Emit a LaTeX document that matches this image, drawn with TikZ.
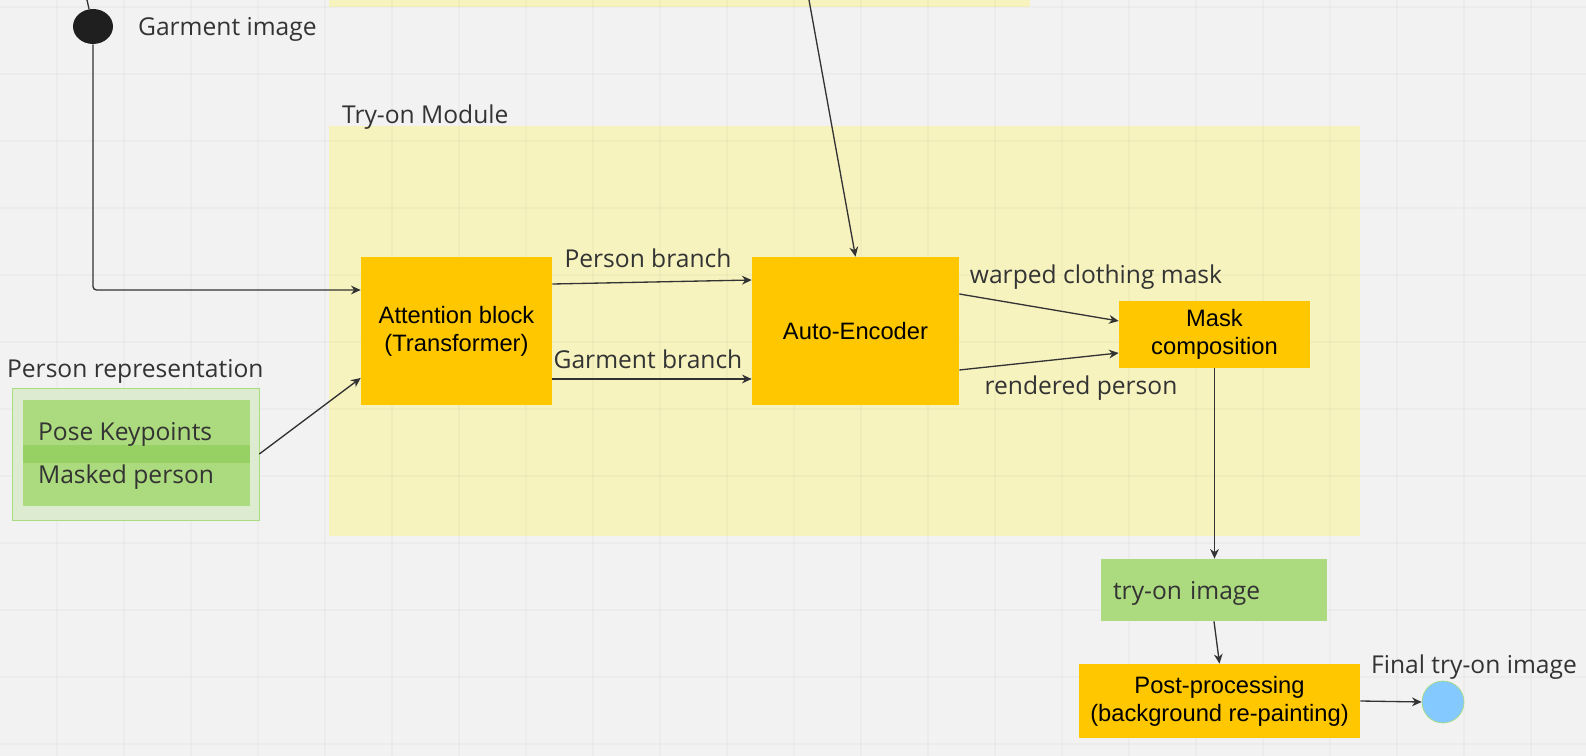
\documentclass[tikz,border=0pt]{standalone}
\usepackage{fontspec}
\setmainfont{Open Sans}
\newfontfamily\boxfont{Liberation Sans}
\usetikzlibrary{arrows.meta}
\usetikzlibrary{shapes.geometric}
\definecolor{Canvas}{HTML}{F2F2F2}
\definecolor{Pale}{HTML}{F6F3BF}
\definecolor{Amber}{HTML}{FFC700}
\definecolor{Leaf}{HTML}{ACDA7E}
\definecolor{LeafDark}{HTML}{97D063}
\definecolor{RepFill}{HTML}{DDEBD0}
\definecolor{RepRim}{HTML}{A8DC7E}
\definecolor{Sky}{HTML}{84C9FF}
\definecolor{Ink}{HTML}{333333}

\begin{document}
\begin{tikzpicture}[x=0.02cm, y=-0.02cm, >={Stealth[length=5.5pt,width=5pt]},
    every node/.style={inner sep=1pt},
    block/.style={fill=Amber, align=center, text=black, font=\boxfont\fontsize{13.5}{16}\selectfont},
    lbl/.style={text=Ink, font=\fontsize{14}{17}\selectfont, text height=14.5pt, text depth=3.5pt},
    link/.style={->, draw=Ink, line width=0.75pt},
    gridline/.style={draw=black, opacity=0.025, line width=0.6pt}]
      \fill[Canvas] (0,0) rectangle (1586,756);
      \useasboundingbox (0,0) rectangle (1586,756);

      % regions
      \fill[Pale] (329,-5) rectangle (1030,7);
      \fill[Pale] (329,126) rectangle (1360,536);

      \foreach \i in {0,...,24}
      \draw[gridline] (67*\i-10,0) -- (67*\i-10,756);
      \foreach \j in {0,...,11}
      \draw[gridline] (0,67*\j+7) -- (1586,67*\j+7);

      \node[lbl, anchor=west] (modlbl) at (340,114) {Try-on Module};

      % inputs
      \coordinate (garmentin) at (87,0);
      \node[ellipse, fill=black!88, inner sep=0, minimum width=0.8cm, minimum height=0.7cm] (garment) at (93,26.5) {};
      \node[lbl, anchor=west] (garmentlbl) at (136,26) {Garment image};

      \node[fill=RepFill, draw=RepRim, minimum width=4.94cm, minimum height=2.64cm] (rep) at (135.5,454) {};
      \node[fill=Leaf, minimum width=4.54cm, minimum height=2.12cm] (repin) at (136.5,453) {};
      \fill[LeafDark] (23,445) rectangle (250,463);
      \node[lbl, anchor=west] (pose) at (36,431) {Pose Keypoints};
      \node[lbl, anchor=west] (masked) at (36,474) {Masked person};
      \node[lbl, anchor=west] (replbl) at (5,368) {Person representation};

      % try-on module
      \node[block, minimum width=3.82cm, minimum height=2.96cm] (att) at (456.5,331) {Attention block\\(Transformer)};
      \node[block, minimum width=4.14cm, minimum height=2.96cm] (ae) at (855.5,331) {Auto-Encoder};
      \node[block, minimum width=3.82cm, minimum height=1.34cm] (mask) at (1214.5,334.5) {Mask\\composition};
      \coordinate (warpin) at (809,0);

      \node[lbl] (pbranch) at (648,258) {Person branch};
      \node[lbl] (gbranch) at (648,359) {Garment branch};
      \node[lbl] (warplbl) at (1096,274) {warped clothing mask};
      \node[lbl] (rendlbl) at (1081,385) {rendered person};

      % outputs
      \node[fill=Leaf, text width=4.04cm, inner xsep=0.24cm, minimum height=1.24cm, align=left, lbl] (tryon) at (1214,590) {try-on image};
      \node[block, minimum width=5.62cm, minimum height=1.48cm] (post) at (1219.5,701) {Post-processing\\(background re-painting)};
      \node[circle, fill=Sky, draw=RepRim, line width=0.4pt, inner sep=0, minimum size=0.84cm] (final) at (1443,702) {};
      \node[lbl] (finallbl) at (1474,664) {Final try-on image};

      \draw[Ink, line width=0.75pt] (garmentin) -- (garment);
      \draw[link, rounded corners=2pt] (garment) |- ([yshift=0.82cm]att.west);
      \draw[link] (rep.east) -- ([yshift=-0.94cm]att.west);
      \draw[link] (warpin) -- (ae.north);
      \draw[link] ([yshift=0.94cm]att.east) -- ([yshift=1.02cm]ae.west);
      \draw[link] ([yshift=-0.96cm]att.east) -- ([yshift=-0.96cm]ae.west);
      \draw[link] ([yshift=0.74cm]ae.east) -- ([yshift=0.27cm]mask.west);
      \draw[link] ([yshift=-0.78cm]ae.east) -- ([yshift=-0.37cm]mask.west);
      \draw[link] (mask.south) -- (mask.south |- tryon.north);
      \draw[link] (tryon.south) -- (post.north);
      \draw[link] (post.east) -- (final.west);
    \end{tikzpicture}
\end{document}
